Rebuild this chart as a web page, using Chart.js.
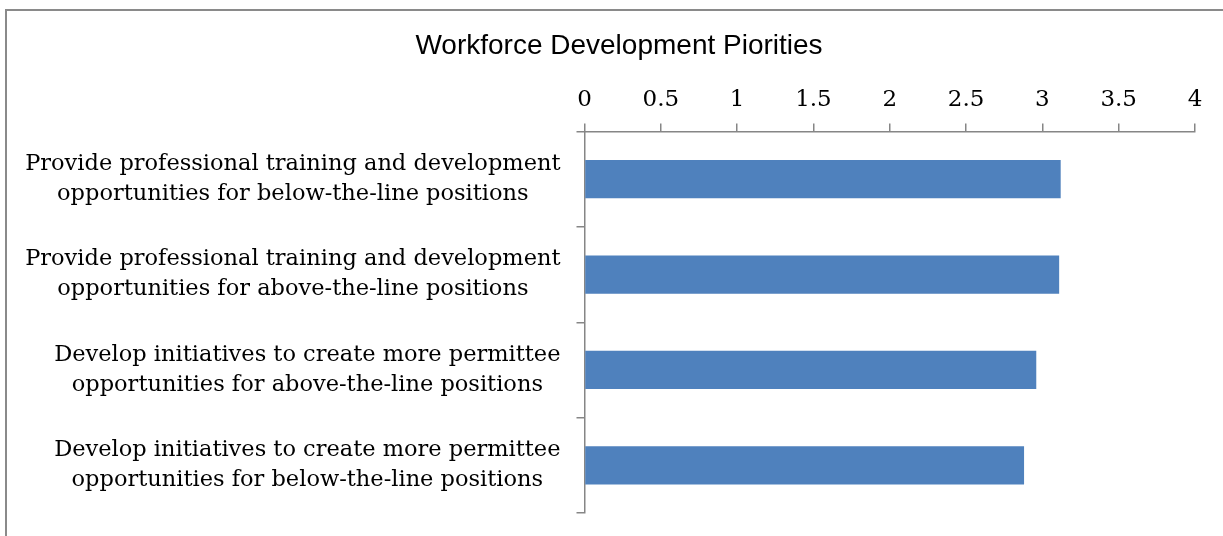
<!DOCTYPE html>
<html>
<head>
<meta charset="utf-8">
<script src="https://cdn.jsdelivr.net/npm/chart.js@4"></script>
<style>
  html, body { margin: 0; padding: 0; background: #fff; overflow: hidden; }
  #frame {
    position: absolute; left: 5px; top: 9px;
    width: 1400px; height: 700px;
    border-left: 2px solid #8a8a8a; border-top: 2px solid #8a8a8a;
  }
  #wrap { position: absolute; left: 0; top: 0; width: 1223px; height: 536px; }
</style>
</head>
<body>
<div id="frame"></div>
<div id="wrap"><canvas id="priority-chart"></canvas></div>
<script>
// 항목 (두 줄 라벨)
const categories = [
    ['Provide professional training and development', 'opportunities for below-the-line positions'],
    ['Provide professional training and development', 'opportunities for above-the-line positions'],
    ['Develop initiatives to create more permittee', 'opportunities for above-the-line positions'],
    ['Develop initiatives to create more permittee', 'opportunities for below-the-line positions']
];
// 평균 점수
const scores = [3.12, 3.11, 2.96, 2.88];
// X축 눈금
const xTicks = [0, 0.5, 1, 1.5, 2, 2.5, 3, 3.5, 4];

const AXIS_GRAY = '#868686';
const SERIF = '"DejaVu Serif", "Liberation Serif", serif';
const LABEL_SIZE = 22.5;
const LABEL_LINE = 30;

/**
 * 세로축 라벨: 블록은 오른쪽 정렬, 각 줄은 블록 안에서 가운데 정렬
 */
const categoryLabels = {
    id: 'categoryLabels',
    afterDraw(chart) {
        const ctx = chart.ctx;
        const yScale = chart.scales.y;
        const right = chart.chartArea.left - 24;
        ctx.save();
        ctx.font = LABEL_SIZE + 'px ' + SERIF;
        ctx.fillStyle = '#000';
        ctx.textAlign = 'center';
        ctx.textBaseline = 'middle';
        categories.forEach((lines, i) => {
            const y = yScale.getPixelForValue(i);
            const widest = Math.max(...lines.map(l => ctx.measureText(l).width));
            const cx = right - widest / 2;
            const top = y - (lines.length - 1) * LABEL_LINE / 2;
            lines.forEach((line, k) => ctx.fillText(line, cx, top + k * LABEL_LINE));
        });
        ctx.restore();
    }
};

const ctx = document.getElementById('priority-chart').getContext('2d');
new Chart(ctx, {
    type: 'bar',
    data: {
        labels: categories,
        datasets: [{
            data: scores,
            backgroundColor: '#4F81BD',
            borderWidth: 0,
            barPercentage: 0.4,
            categoryPercentage: 1
        }]
    },
    options: {
        indexAxis: 'y',
        responsive: true,
        maintainAspectRatio: false,
        animation: false,
        layout: { padding: { top: 0, left: 43, right: 28, bottom: 23 } },
        plugins: {
            legend: { display: false },
            tooltip: { enabled: false },
            title: {
                display: true,
                text: 'Workforce Development Piorities',
                color: '#000',
                font: { family: '"Liberation Sans", Arial, sans-serif', size: 28, weight: 'normal' },
                padding: { top: 29, bottom: 0 }
            }
        },
        scales: {
            x: {
                position: 'top',
                min: 0,
                max: 4,
                afterBuildTicks: scale => { scale.ticks = xTicks.map(v => ({ value: v })); },
                afterFit: scale => { scale.height = 68.9; },
                ticks: {
                    color: '#000',
                    font: { family: SERIF, size: 23 },
                    padding: 10,
                    maxRotation: 0,
                    callback: value => String(value)
                },
                grid: {
                    drawOnChartArea: false,
                    drawTicks: true,
                    tickLength: 8,
                    color: AXIS_GRAY,
                    lineWidth: 1.5
                },
                border: { color: AXIS_GRAY, width: 1.5 }
            },
            y: {
                afterFit: scale => { scale.width = 541.5; },
                ticks: { display: false },
                grid: {
                    drawOnChartArea: false,
                    drawTicks: true,
                    tickLength: 8,
                    color: AXIS_GRAY,
                    lineWidth: 1.5
                },
                border: { color: AXIS_GRAY, width: 1.5 }
            }
        }
    },
    plugins: [categoryLabels]
});
</script>
</body>
</html>
